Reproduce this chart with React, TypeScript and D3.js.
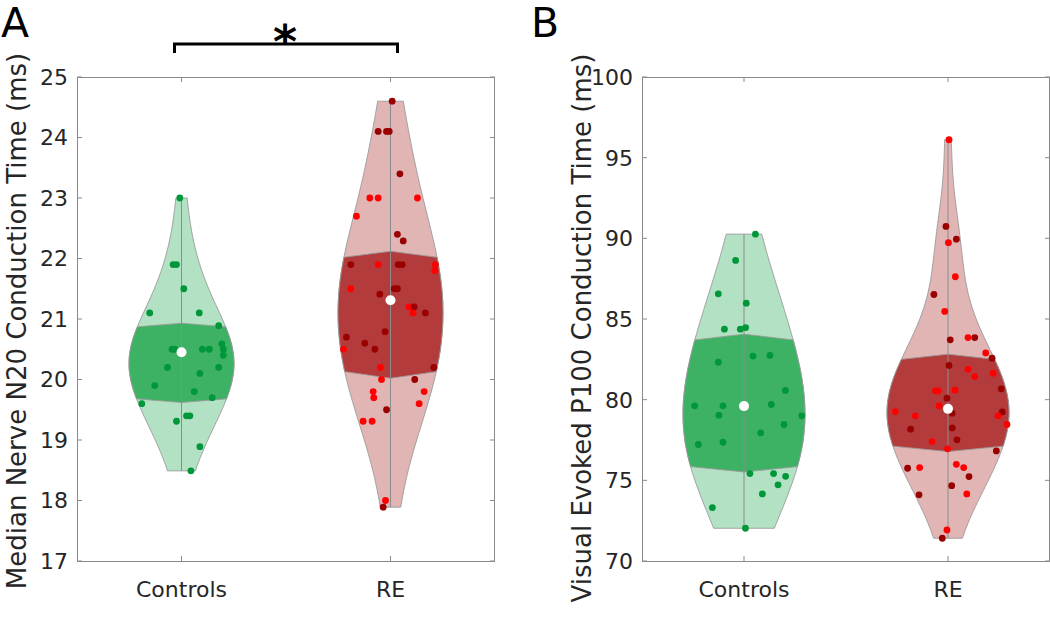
import React from 'react';
import * as d3 from 'd3';

const categories = ['Controls', 'RE'];

// Panel A: Median Nerve N20 (ms)
const ctrlAVals = [23.0, 21.9, 21.9, 21.5, 21.1, 21.1, 20.89, 20.59, 20.5, 20.5, 20.5, 20.5, 20.5, 20.4, 20.2, 20.2, 20.1, 19.9, 19.8, 19.7, 19.6, 19.4, 19.4, 19.31, 18.89, 18.49];
const ctrlAJit = [-0.008, -0.04, -0.024, 0.011, -0.152, 0.085, 0.178, 0.193, -0.045, -0.032, 0.1, 0.133, 0.2, 0.2, -0.067, 0.178, 0.088, -0.128, 0.061, 0.147, -0.19, 0.024, 0.04, -0.024, 0.088, 0.045];
const reAVals = [24.6, 24.1, 24.1, 24.1, 23.4, 23.0, 23.0, 23.0, 22.7, 22.4, 22.29, 21.9, 21.9, 21.9, 21.9, 21.9, 21.8, 21.5, 21.5, 21.5, 21.41, 21.2, 21.2, 21.1, 21.1, 20.79, 20.7, 20.6, 20.5, 20.5, 20.2, 20.2, 20.0, 20.0, 19.8, 19.8, 19.7, 19.6, 19.5, 19.31, 19.31, 18.0, 17.89];
const reAJit = [0.008, -0.059, -0.019, -0.006, 0.045, -0.099, -0.059, 0.129, -0.163, 0.033, 0.061, -0.19, -0.059, 0.037, 0.056, 0.215, 0.212, -0.19, 0.018, 0.033, -0.051, 0.088, 0.113, 0.108, 0.167, -0.026, -0.211, -0.123, -0.075, -0.225, -0.048, 0.207, -0.043, 0.116, -0.083, 0.161, -0.08, 0.137, -0.019, -0.131, -0.088, -0.024, -0.035];
const reADark = [1, 1, 1, 1, 1, 0, 0, 0, 0, 1, 1, 1, 0, 1, 1, 0, 0, 0, 1, 1, 1, 0, 1, 0, 1, 1, 1, 1, 1, 0, 0, 1, 0, 1, 0, 0, 0, 0, 1, 0, 0, 0, 1];

// Panel B: Visual Evoked P100 (ms)
const ctrlBVals = [90.26, 88.63, 86.56, 85.98, 84.37, 84.37, 84.47, 82.32, 82.7, 82.74, 80.57, 79.62, 79.62, 79.7, 79.04, 79.0, 77.94, 77.36, 77.22, 78.46, 75.42, 75.42, 75.25, 74.72, 74.16, 73.31, 72.03];
const ctrlBJit = [0.056, -0.041, -0.126, 0.011, -0.096, -0.018, 0.008, -0.126, 0.044, 0.127, 0.203, -0.242, -0.103, 0.134, -0.123, 0.283, 0.082, -0.103, -0.224, 0.196, 0.029, 0.145, 0.204, 0.167, 0.09, -0.155, 0.007];
const reBVals = [96.11, 90.74, 89.73, 89.95, 87.62, 86.52, 85.47, 83.71, 83.85, 83.85, 82.9, 82.57, 82.12, 81.89, 81.43, 81.64, 80.67, 80.55, 80.55, 80.59, 80.09, 79.62, 79.26, 79.0, 79.16, 79.24, 79.0, 78.46, 78.17, 78.25, 77.4, 77.51, 76.95, 76.82, 75.75, 75.79, 75.99, 75.79, 75.23, 74.67, 74.1, 74.16, 71.92, 71.41];
const reBJit = [0.005, -0.01, 0.002, 0.041, 0.036, -0.069, -0.016, 0.011, 0.098, 0.131, 0.185, 0.216, 0.005, 0.098, 0.131, 0.221, 0.261, -0.062, -0.049, 0.034, -0.005, -0.044, -0.258, -0.16, 0.02, 0.266, 0.245, 0.289, -0.183, 0.021, -0.078, 0.044, -0.002, 0.237, -0.198, -0.139, 0.041, 0.077, 0.103, 0.018, -0.142, 0.092, -0.005, -0.028];
const reBDark = [0, 1, 0, 1, 0, 1, 0, 1, 0, 1, 0, 1, 1, 0, 0, 0, 1, 0, 0, 0, 1, 0, 0, 0, 1, 1, 0, 0, 1, 1, 0, 1, 0, 1, 1, 0, 0, 0, 1, 1, 1, 0, 0, 1];

// summary stats: [Controls, RE]
const mediansA = [20.45, 21.31];
const q3CenterA = [20.93, 22.12];
const q3EdgeA = [20.87, 22.02];
const q1CenterA = [19.62, 20.02];
const q1EdgeA = [19.68, 20.13];
const mediansB = [79.6, 79.43];
const q3CenterB = [84.06, 82.82];
const q3EdgeB = [83.7, 82.5];
const q1CenterB = [75.52, 76.78];
const q1EdgeB = [75.85, 77.12];

const yTicksA = [17, 18, 19, 20, 21, 22, 23, 24, 25];
const yTicksB = [70, 75, 80, 85, 90, 95, 100];

const FONT = 'DejaVu Sans';
const C = {
  gLight: '#b3e1c3', gDark: '#3db264', gPt: '#00973a',
  rLight: '#e2b5b5', rDark: '#b33b3b', rPt: '#ff0000', rPtDark: '#990000',
  edge: '#9a9a9a', axis: '#8a8a8a', text: '#262626',
};

function kdeFn(values: number[], bwScale: number) {
  const n = values.length;
  const med = d3.median(values)!;
  const mad = d3.median(values.map(v => Math.abs(v - med)))!;
  const sig = mad / 0.6745;
  const bw = sig * Math.pow(4 / (3 * n), 0.2) * bwScale;
  return (y: number) => d3.mean(values, v => Math.exp(-0.5 * ((y - v) / bw) ** 2))!;
}

type VProps = {
  vals: number[]; jit: number[]; dark?: number[]; ci: number; bwScale: number;
  x: d3.ScaleLinear<number, number>; y: d3.ScaleLinear<number, number>;
  maxW: number; med: number; q1c: number; q1e: number; q3c: number; q3e: number;
  light: string; darkFill: string; pt: string; ptDark?: string;
};

function Violin(p: VProps) {
  const dens = kdeFn(p.vals, p.bwScale);
  const lo = d3.min(p.vals)!, hi = d3.max(p.vals)!;
  const N = 100;
  const grid = d3.range(N + 1).map(i => lo + (hi - lo) * i / N);
  const dmax = d3.max(grid, dens)!;
  const hw = (v: number) => dens(v) / dmax * p.maxW;
  const cx = p.x(p.ci + 1);
  const area = d3.area<number>().y(v => p.y(v)).x0(v => cx - hw(v)).x1(v => cx + hw(v));
  const inner = [p.q1e, ...grid.filter(g => g > p.q1e && g < p.q3e), p.q3e];
  const pts: [number, number][] = [];
  pts.push([cx, p.y(p.q3c)]);
  for (let i = inner.length - 1; i >= 0; i--) pts.push([cx + hw(inner[i]), p.y(inner[i])]);
  pts.push([cx, p.y(p.q1c)]);
  for (let i = 0; i < inner.length; i++) pts.push([cx - hw(inner[i]), p.y(inner[i])]);
  const iqr = d3.line()(pts)! + 'Z';
  return (
    <g>
      <path d={area(grid)! + 'Z'} fill={p.light} stroke={C.edge} strokeWidth={0.9} />
      <path d={iqr} fill={p.darkFill} stroke={C.edge} strokeWidth={0.9} />
      <line x1={cx} x2={cx} y1={p.y(lo)} y2={p.y(hi)} stroke="#8c8c8c" strokeWidth={1} />
      {p.vals.map((v, i) => (
        <circle key={i} cx={p.x(p.ci + 1 + p.jit[i])} cy={p.y(v)} r={3.4}
          fill={p.dark && p.dark[i] ? p.ptDark : p.pt} />
      ))}
      <circle cx={cx} cy={p.y(p.med)} r={5} fill="#ffffff" />
    </g>
  );
}

type PanelProps = {
  left: number; right: number; top: number; bottom: number; labelShift: number;
  domain: [number, number]; ticks: number[]; label: string; letter: string; letterX: number;
  children: (x: d3.ScaleLinear<number, number>, y: d3.ScaleLinear<number, number>) => React.ReactNode;
};

function Panel(p: PanelProps) {
  const x = d3.scaleLinear().domain([0.5, 2.5]).range([p.left, p.right]);
  const y = d3.scaleLinear().domain(p.domain).range([p.bottom, p.top]);
  const tl = 5;
  return (
    <g>
      {p.children(x, y)}
      <rect x={p.left + 0.5} y={p.top + 0.5} width={p.right - p.left - 1} height={p.bottom - p.top}
        fill="none" stroke={C.axis} strokeWidth={1} />
      {p.ticks.map(t => (
        <g key={t}>
          <line x1={p.left} x2={p.left + tl} y1={y(t)} y2={y(t)} stroke={C.axis} />
          <line x1={p.right - tl} x2={p.right} y1={y(t)} y2={y(t)} stroke={C.axis} />
          <text x={p.left - 9} y={y(t)} dy="0.36em" textAnchor="end" fontFamily={FONT} fontSize={22} fill={C.text}>{t}</text>
        </g>
      ))}
      {categories.map((c, i) => (
        <g key={c}>
          <line x1={x(i + 1)} x2={x(i + 1)} y1={p.bottom} y2={p.bottom - tl} stroke={C.axis} />
          <line x1={x(i + 1)} x2={x(i + 1)} y1={p.top} y2={p.top + tl} stroke={C.axis} />
          <text x={x(i + 1)} y={p.bottom + 36} textAnchor="middle" fontFamily={FONT} fontSize={22} fill={C.text}>{c}</text>
        </g>
      ))}
      <text transform={`translate(${p.left - 51},${(p.top + p.bottom) / 2 + p.labelShift}) rotate(-90)`} textAnchor="middle"
        fontFamily={FONT} fontSize={26} fill={C.text}>{p.label}</text>
      <text x={p.letterX} y={37} fontFamily={FONT} fontSize={41} fill="#000">{p.letter}</text>
    </g>
  );
}

export default function App() {
  const top = 77, bottom = 561;
  return (
    <svg width={1050} height={626} style={{ position: 'absolute', left: 0, top: 0, background: '#fff' }}>
      <Panel left={77} right={495} top={top} bottom={bottom} domain={[17, 25]} ticks={yTicksA} labelShift={2}
        label="Median Nerve N20 Conduction Time (ms)" letter="A" letterX={1}>
        {(x, y) => (
          <g>
            <Violin vals={ctrlAVals} jit={ctrlAJit} ci={0} bwScale={1.3} x={x} y={y} maxW={52.5} med={mediansA[0]}
              q1c={q1CenterA[0]} q1e={q1EdgeA[0]} q3c={q3CenterA[0]} q3e={q3EdgeA[0]}
              light={C.gLight} darkFill={C.gDark} pt={C.gPt} />
            <Violin vals={reAVals} jit={reAJit} dark={reADark} ci={1} bwScale={1.3} x={x} y={y} maxW={52.5} med={mediansA[1]}
              q1c={q1CenterA[1]} q1e={q1EdgeA[1]} q3c={q3CenterA[1]} q3e={q3EdgeA[1]}
              light={C.rLight} darkFill={C.rDark} pt={C.rPt} ptDark={C.rPtDark} />
            <path d={`M${x(1) - 7},53V44H${x(2) + 7}V53`} fill="none" stroke="#000" strokeWidth={3} />
            <text x={(x(1) + x(2)) / 2 - 1} y={58} textAnchor="middle" fontFamily={FONT} fontSize={46} fontWeight="bold" fill="#000">*</text>
          </g>
        )}
      </Panel>
      <Panel left={642} right={1050} top={top} bottom={bottom} domain={[70, 100]} ticks={yTicksB} labelShift={9}
        label="Visual Evoked P100 Conduction Time (ms)" letter="B" letterX={531}>
        {(x, y) => (
          <g>
            <Violin vals={ctrlBVals} jit={ctrlBJit} ci={0} bwScale={1.2} x={x} y={y} maxW={61} med={mediansB[0]}
              q1c={q1CenterB[0]} q1e={q1EdgeB[0]} q3c={q3CenterB[0]} q3e={q3EdgeB[0]}
              light={C.gLight} darkFill={C.gDark} pt={C.gPt} />
            <Violin vals={reBVals} jit={reBJit} dark={reBDark} ci={1} bwScale={1.2} x={x} y={y} maxW={61} med={mediansB[1]}
              q1c={q1CenterB[1]} q1e={q1EdgeB[1]} q3c={q3CenterB[1]} q3e={q3EdgeB[1]}
              light={C.rLight} darkFill={C.rDark} pt={C.rPt} ptDark={C.rPtDark} />
          </g>
        )}
      </Panel>
    </svg>
  );
}
